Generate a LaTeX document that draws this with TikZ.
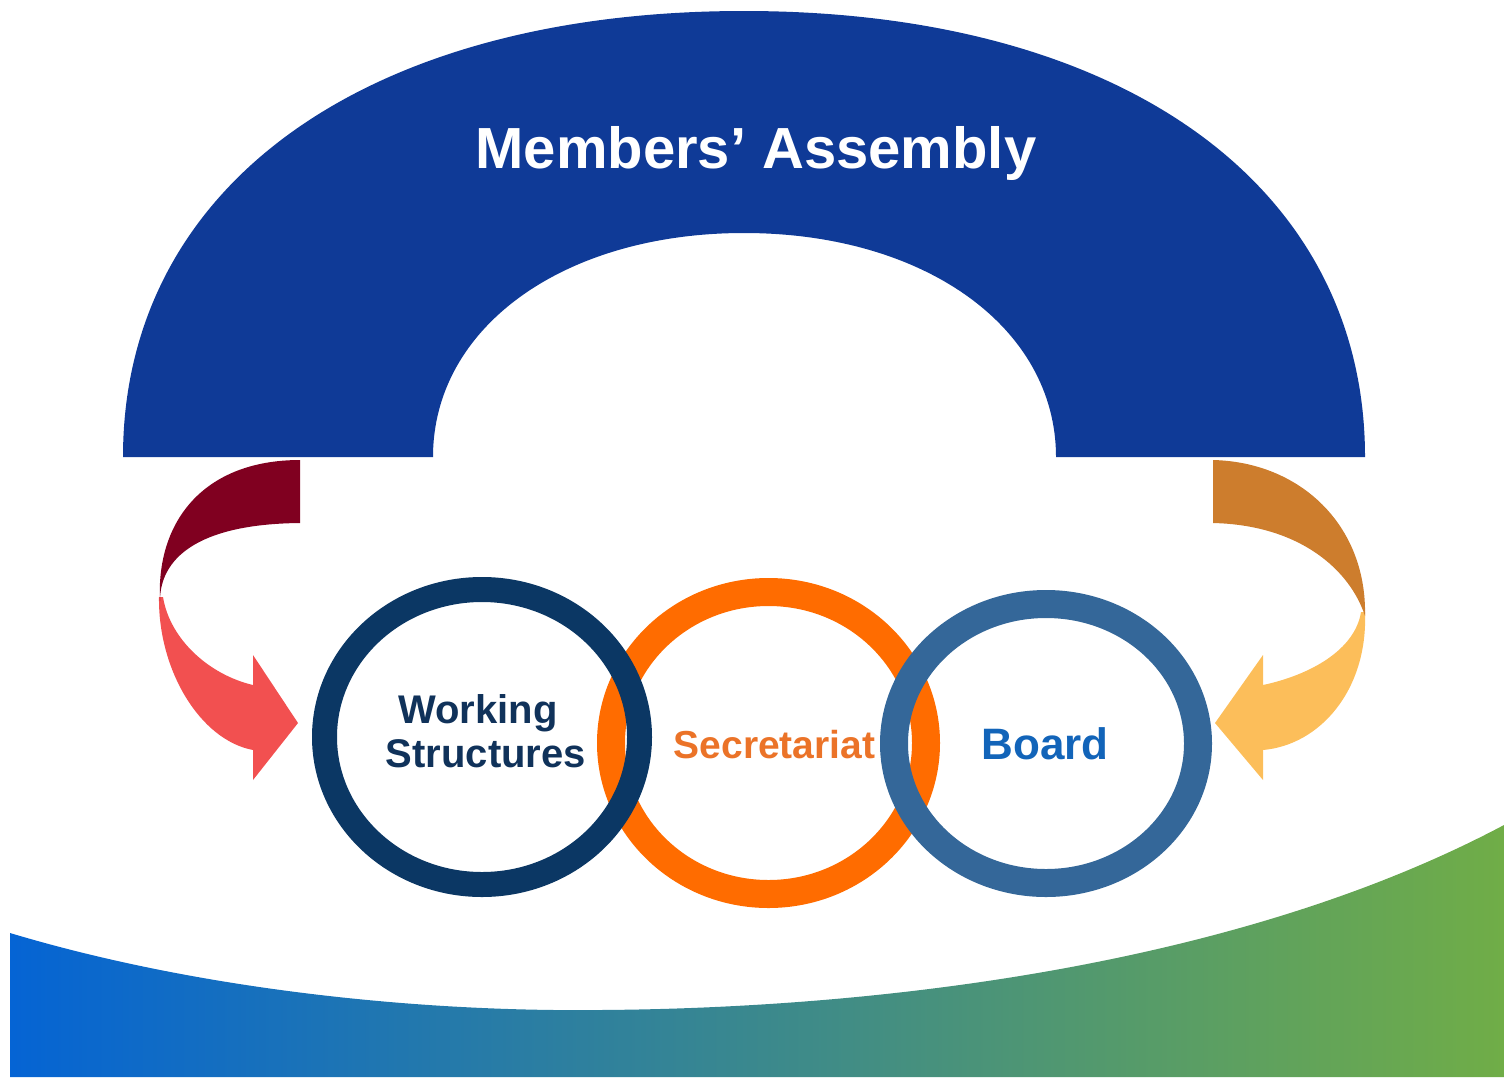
\documentclass[tikz,border=0pt]{standalone}
\usepackage{fontspec}
\setmainfont{Liberation Sans}
\definecolor{assemblyblue}{RGB}{15,58,151}
\definecolor{wsnavy}{RGB}{11,55,100}
\definecolor{wstext}{RGB}{16,50,90}
\definecolor{secorange}{RGB}{255,108,0}
\definecolor{sectext}{RGB}{235,115,40}
\definecolor{boardblue}{RGB}{52,103,153}
\definecolor{boardtext}{RGB}{18,100,185}
\definecolor{leftdark}{RGB}{128,0,32}
\definecolor{leftlight}{RGB}{242,80,80}
\definecolor{rightdark}{RGB}{205,125,45}
\definecolor{rightlight}{RGB}{252,190,90}
\definecolor{waveblue}{RGB}{5,100,212}
\definecolor{wavemid}{RGB}{72,140,165}
\definecolor{wavegreen}{RGB}{112,173,71}

\begin{document}
\begin{tikzpicture}[x=1pt,y=-1pt]
    \useasboundingbox (0,0) rectangle (1504,1077);
    \shade [left color=waveblue,middle color=wavemid,right color=wavegreen] (10,933) .. controls (200,990) and (420,1012) .. (600,1010) .. controls (900,1008) and (1250,960) .. (1504,825) -- (1504,1077) -- (10,1077) -- cycle;
    \fill [color=assemblyblue] (123,457) .. controls (123,186) and (365,11) .. (744,11) .. controls (1123,11) and (1365,186) .. (1365,457) -- (1056,457) .. controls (1056,327) and (924,233) .. (744,233) .. controls (564,233) and (433,327) .. (433,457) -- cycle;
    \fill [color=leftlight] (159,597) .. controls (158,670) and (200,740) .. (253,750) -- (253,780) -- (298,723) -- (253,655) -- (253,685) .. controls (210,675) and (170,640) .. (163,597) -- cycle;
    \fill [color=leftdark] (300,460) .. controls (205,460) and (156,520) .. (160,601) .. controls (160,560) and (195,524) .. (300,523) -- cycle;
    \fill [color=rightlight] (1365,612) .. controls (1368,690) and (1320,745) .. (1263,750) -- (1263,780) -- (1215,723) -- (1263,655) -- (1263,685) .. controls (1310,675) and (1355,650) .. (1361,612) -- cycle;
    \fill [color=rightdark] (1213,460) .. controls (1300,462) and (1367,525) .. (1365,616) .. controls (1350,570) and (1300,525) .. (1213,523) -- cycle;
    \draw [line width=28pt,color=secorange] (768.5,743) ellipse [x radius=157.5pt,y radius=151pt];
    \draw [line width=25pt,color=wsnavy] (482,737) ellipse [x radius=157.5pt,y radius=147.5pt];
    \draw [line width=28pt,color=boardblue] (1046,743.5) ellipse [x radius=152pt,y radius=139.5pt];
    \draw[color=white] (756,168) node[anchor=base,font=\fontsize{58}{60}\selectfont\bfseries] (assembly) {Members’ Assembly};
    \draw[color=wstext] (478,723) node[anchor=base,font=\fontsize{40}{44}\selectfont\bfseries] (working) {Working};
    \draw[color=wstext] (486,767) node[anchor=base,font=\fontsize{40}{44}\selectfont\bfseries] (structures) {Structures};
    \draw[color=sectext] (774.5,758) node[anchor=base,font=\fontsize{39}{42}\selectfont\bfseries] (secretariat) {Secretariat};
    \draw[color=boardtext] (1045,759) node[anchor=base,font=\fontsize{44}{46}\selectfont\bfseries] (board) {Board};
\end{tikzpicture}
\end{document}
